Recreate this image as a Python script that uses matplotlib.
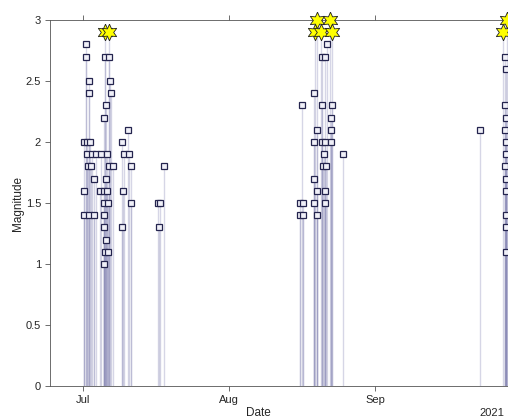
import matplotlib
matplotlib.use("Agg")
import matplotlib.pyplot as plt
import matplotlib.dates as mdates
import numpy as np
import pandas as pd

plt.rcParams['font.family'] = ['Liberation Sans', 'DejaVu Sans']

# event times and magnitudes
event_times = [
    # early July swarm
    "2021-07-01 05:00", "2021-07-01 05:00", "2021-07-01 05:00",
    "2021-07-01 15:00", "2021-07-01 15:00",
    "2021-07-01 20:00", "2021-07-01 20:00",
    "2021-07-02 01:30",
    "2021-07-02 06:30", "2021-07-02 06:30", "2021-07-02 06:30",
    "2021-07-02 12:00",
    "2021-07-02 17:00",
    "2021-07-02 22:00",
    "2021-07-03 08:00", "2021-07-03 08:00",
    "2021-07-03 18:00",
    "2021-07-04 14:40", "2021-07-04 20:00",
    "2021-07-05 11:00", "2021-07-05 11:00", "2021-07-05 11:00", "2021-07-05 11:00",
    "2021-07-05 11:00", "2021-07-05 11:00",
    "2021-07-05 16:00", "2021-07-05 16:00", "2021-07-05 16:00",
    "2021-07-05 21:00", "2021-07-05 21:00", "2021-07-05 21:00",
    "2021-07-06 02:30", "2021-07-06 02:30",
    "2021-07-06 07:30", "2021-07-06 07:30",
    "2021-07-06 12:30", "2021-07-06 12:30", "2021-07-06 12:30",
    "2021-07-06 17:30",
    "2021-07-06 22:30",
    "2021-07-07 09:00",
    "2021-07-09 07:00", "2021-07-09 07:00",
    "2021-07-09 12:00",
    "2021-07-09 17:00",
    "2021-07-10 13:00",
    "2021-07-10 18:30",
    "2021-07-11 04:30", "2021-07-11 04:30",
    "2021-07-16 22:00", "2021-07-17 03:30", "2021-07-17 08:30", "2021-07-18 05:00",
    # mid August swarm
    "2021-08-16 01:40", "2021-08-16 01:40",
    "2021-08-16 12:00",
    "2021-08-16 17:00", "2021-08-16 17:00",
    "2021-08-19 01:00", "2021-08-19 01:00", "2021-08-19 01:00", "2021-08-19 01:00",
    "2021-08-19 06:15",
    "2021-08-19 16:20", "2021-08-19 16:20", "2021-08-19 16:20", "2021-08-19 16:20",
    "2021-08-20 12:45",
    "2021-08-20 17:45", "2021-08-20 17:45", "2021-08-20 17:45",
    "2021-08-20 23:00",
    "2021-08-21 04:00",
    "2021-08-21 09:00", "2021-08-21 09:00", "2021-08-21 09:00", "2021-08-21 09:00",
    "2021-08-21 14:10",
    "2021-08-21 19:10",
    "2021-08-22 10:30",
    "2021-08-22 15:40", "2021-08-22 15:40", "2021-08-22 15:40",
    "2021-08-22 21:00", "2021-08-22 21:00",
    "2021-08-25 04:50",
    # late September
    "2021-09-23 07:00",
    "2021-09-28 04:00",
    "2021-09-28 14:00", "2021-09-28 14:00", "2021-09-28 14:00", "2021-09-28 14:00",
    "2021-09-28 18:00", "2021-09-28 18:00", "2021-09-28 18:00", "2021-09-28 18:00",
    "2021-09-28 22:00", "2021-09-28 22:00", "2021-09-28 22:00", "2021-09-28 22:00",
    "2021-09-28 22:00",
    "2021-09-29 00:30",
]
magnitudes = [
    2.0, 1.6, 1.4,
    2.8, 2.7,
    2.0, 1.9,
    1.8,
    2.5, 2.4, 1.4,
    2.0,
    1.8,
    1.9,
    1.7, 1.4,
    1.9,
    1.6, 1.9,
    2.2, 1.6, 1.5, 1.4,
    1.3, 1.0,
    2.9, 2.7, 1.1,
    2.3, 1.7, 1.2,
    1.9, 1.6,
    1.5, 1.1,
    2.9, 2.7, 1.8,
    2.5,
    2.4,
    1.8,
    2.0, 1.3,
    1.6,
    1.9,
    2.1,
    1.9,
    1.8, 1.5,
    1.5, 1.3, 1.5, 1.8,
    1.5, 1.4,
    2.3,
    1.5, 1.4,
    2.4, 2.0, 1.7, 1.5,
    2.9,
    3.0, 2.1, 1.6, 1.4,
    2.9,
    2.7, 2.3, 2.0,
    1.8,
    1.9,
    2.7, 2.0, 1.6, 1.5,
    1.8,
    2.8,
    3.0,
    2.2, 2.1, 2.0,
    2.9, 2.3,
    1.9,
    2.1,
    2.9,
    2.7, 2.3, 2.1, 1.8,
    2.6, 2.2, 1.9, 1.6,
    2.0, 1.7, 1.4, 1.3,
    1.1,
    3.0,
]

x_range = ("2021-06-24 00:00", "2021-09-29 16:00")
y_ticks = [0, 0.5, 1, 1.5, 2, 2.5, 3]
y_tick_labels = ["0", "0.5", "1", "1.5", "2", "2.5", "3"]
big_threshold = 2.9

times = pd.to_datetime(event_times)
mags = np.array(magnitudes)
big = mags >= big_threshold

fig = plt.figure(figsize=(5.08, 4.19), dpi=100)
ax = fig.add_axes([50 / 508, 33 / 419, 460 / 508, 366 / 419])

ax.vlines(times, 0, mags, color="#8c8cb8", lw=1.0, alpha=0.35)
ax.plot(times[~big], mags[~big], "s", ms=4.5, mfc="#f0f0f8", mec="#24244e",
        mew=0.9, clip_on=False, zorder=3)
ax.plot(times[big], mags[big], marker=(6, 1, 0), ls="none", ms=12, mfc="#ffff00",
        mec="#202020", mew=0.6, clip_on=False, zorder=4)

ax.set_xlim(pd.to_datetime(x_range[0]), pd.to_datetime(x_range[1]))
ax.set_ylim(0, 3)
ax.set_yticks(y_ticks)
ax.set_yticklabels(y_tick_labels)
ax.xaxis.set_major_locator(mdates.MonthLocator())
ax.xaxis.set_major_formatter(mdates.DateFormatter("%b"))

for s in ax.spines.values():
    s.set_color("#555555")
    s.set_linewidth(0.6)
ax.tick_params(direction="out", length=3.5, width=0.6, colors="#555555",
               labelcolor="#262626", labelsize=8, top=True, right=True, pad=3)

ax.set_ylabel("Magnitude", fontsize=8.5, color="#262626")
ax.yaxis.set_label_coords((24 - 50) / 460, 0.5)
fig.text(258 / 508, 1 - 413 / 419, "Date", ha="center", va="center",
         fontsize=8.5, color="#262626")
fig.text(504 / 508, 1 - 413 / 419, "2021", ha="right", va="center",
         fontsize=8, color="#262626")

fig.savefig("out.png", dpi=100)
